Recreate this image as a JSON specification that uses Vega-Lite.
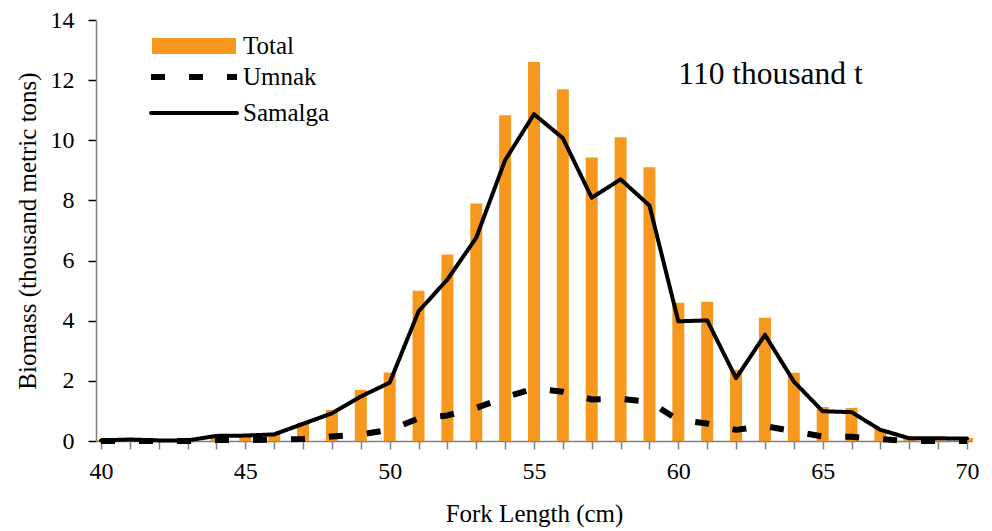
{
  "$schema": "https://vega.github.io/schema/vega-lite/v6.json",
  "width": 876,
  "height": 421,
  "autosize": {"type": "none"},
  "padding": {"left": 96, "top": 20, "right": 20, "bottom": 90},
  "background": "white",
  "config": {
    "view": {"stroke": null},
    "font": "Liberation Serif",
    "axis": {
      "labelFont": "Liberation Serif",
      "titleFont": "Liberation Serif",
      "labelColor": "black",
      "titleColor": "black",
      "labelFontSize": 24,
      "titleFontSize": 25,
      "titleFontWeight": "normal",
      "grid": false,
      "domainColor": "#808080",
      "domainWidth": 1.5,
      "tickSize": 8,
      "tickWidth": 1.5
    },
    "legend": {
      "labelFont": "Liberation Serif",
      "labelFontSize": 25,
      "labelColor": "black",
      "padding": 0,
      "title": null
    }
  },
  "data": {
    "values": [
      {"len": 40, "Total": 0.02, "Umnak": 0.0, "Samalga": 0.02},
      {"len": 41, "Total": 0.03, "Umnak": 0.0, "Samalga": 0.05},
      {"len": 42, "Total": 0.02, "Umnak": 0.0, "Samalga": 0.02},
      {"len": 43, "Total": 0.02, "Umnak": 0.0, "Samalga": 0.02},
      {"len": 44, "Total": 0.15, "Umnak": 0.03, "Samalga": 0.17},
      {"len": 45, "Total": 0.18, "Umnak": 0.03, "Samalga": 0.18},
      {"len": 46, "Total": 0.25, "Umnak": 0.05, "Samalga": 0.22},
      {"len": 47, "Total": 0.61, "Umnak": 0.07, "Samalga": 0.57},
      {"len": 48, "Total": 1.03, "Umnak": 0.15, "Samalga": 0.92},
      {"len": 49, "Total": 1.7, "Umnak": 0.22, "Samalga": 1.48},
      {"len": 50, "Total": 2.28, "Umnak": 0.37, "Samalga": 1.94},
      {"len": 51, "Total": 5.0, "Umnak": 0.75, "Samalga": 4.31},
      {"len": 52, "Total": 6.2, "Umnak": 0.85, "Samalga": 5.37},
      {"len": 53, "Total": 7.9, "Umnak": 1.1, "Samalga": 6.76},
      {"len": 54, "Total": 10.83, "Umnak": 1.45, "Samalga": 9.34},
      {"len": 55, "Total": 12.6, "Umnak": 1.75, "Samalga": 10.87},
      {"len": 56, "Total": 11.7, "Umnak": 1.64, "Samalga": 10.07},
      {"len": 57, "Total": 9.43, "Umnak": 1.38, "Samalga": 8.09},
      {"len": 58, "Total": 10.1, "Umnak": 1.4, "Samalga": 8.7},
      {"len": 59, "Total": 9.1, "Umnak": 1.3, "Samalga": 7.83},
      {"len": 60, "Total": 4.6, "Umnak": 0.7, "Samalga": 3.98},
      {"len": 61, "Total": 4.63, "Umnak": 0.58, "Samalga": 4.01},
      {"len": 62, "Total": 2.37, "Umnak": 0.37, "Samalga": 2.09},
      {"len": 63, "Total": 4.1, "Umnak": 0.5, "Samalga": 3.53},
      {"len": 64, "Total": 2.27, "Umnak": 0.32, "Samalga": 1.98},
      {"len": 65, "Total": 1.13, "Umnak": 0.15, "Samalga": 0.99},
      {"len": 66, "Total": 1.1, "Umnak": 0.14, "Samalga": 0.96},
      {"len": 67, "Total": 0.4, "Umnak": 0.06, "Samalga": 0.37},
      {"len": 68, "Total": 0.08, "Umnak": 0.0, "Samalga": 0.09},
      {"len": 69, "Total": 0.08, "Umnak": 0.0, "Samalga": 0.09},
      {"len": 70, "Total": 0.1, "Umnak": 0.0, "Samalga": 0.08}
    ]
  },
  "encoding": {
    "x": {
      "field": "len",
      "type": "quantitative",
      "scale": {"domain": [40, 70], "nice": false, "zero": false},
      "axis": {
        "title": "Fork Length (cm)",
        "values": [40,41,42,43,44,45,46,47,48,49,50,51,52,53,54,55,56,57,58,59,60,61,62,63,64,65,66,67,68,69,70],
        "labelExpr": "datum.value % 5 === 0 ? datum.label : ''",
        "labelFont": "Liberation Serif",
        "titleFont": "Liberation Serif",
        "tickColor": "#808080",
        "labelPadding": 10,
        "titlePadding": 18
      }
    }
  },
  "layer": [
    {
      "mark": {"type": "bar", "width": 12, "clip": false},
      "encoding": {
        "y": {
          "field": "Total",
          "type": "quantitative",
          "scale": {"domain": [0, 14], "nice": false},
          "axis": {
            "title": "Biomass (thousand metric tons)",
            "values": [0, 2, 4, 6, 8, 10, 12, 14],
            "labelFont": "Liberation Serif",
            "titleFont": "Liberation Serif",
            "tickColor": "black",
            "labelPadding": 14,
            "titlePadding": 10
          }
        },
        "color": {
          "datum": "Total",
          "scale": {"domain": ["Total"], "range": ["#F6981E"]},
          "legend": {
            "orient": "none",
            "legendX": 56,
            "legendY": 11,
            "symbolType": "M-1,-0.19H1V0.19H-1Z",
            "symbolSize": 7056,
            "symbolStrokeWidth": 0,
            "symbolOpacity": 1,
            "clipHeight": 30,
            "labelOffset": 7
          }
        }
      }
    },
    {
      "mark": {"type": "line", "color": "black", "strokeWidth": 6, "strokeCap": "butt", "strokeJoin": "round"},
      "encoding": {
        "y": {"field": "Umnak", "type": "quantitative"},
        "strokeDash": {
          "datum": "Umnak",
          "scale": {"domain": ["Umnak", "Samalga"], "range": [[14, 24], [1, 0]]},
          "legend": {
            "orient": "none",
            "legendX": 53,
            "legendY": 42,
            "symbolType": "stroke",
            "symbolSize": 7396,
            "symbolStrokeWidth": 4,
            "symbolStrokeColor": "black",
            "clipHeight": 30,
            "rowPadding": 6,
            "labelOffset": 4,
            "encode": {
              "symbols": {
                "update": {
                  "stroke": {"value": "black"},
                  "strokeDash": {"signal": "(datum.value === 'Umnak' ? [14, 33] : [1, 0])"},
                  "strokeWidth": {"signal": "(datum.value === 'Umnak' ? 6 : 4)"},
                  "strokeCap": {"signal": "(datum.value === 'Umnak' ? 'butt' : 'round')"}
                }
              }
            }
          }
        }
      }
    },
    {
      "mark": {"type": "line", "color": "black", "strokeWidth": 4, "strokeCap": "round", "strokeJoin": "round"},
      "encoding": {
        "y": {"field": "Samalga", "type": "quantitative"},
        "strokeDash": {"datum": "Samalga"}
      }
    },
    {
      "transform": [{"filter": "datum.len === 60"}],
      "mark": {"type": "text", "align": "left", "baseline": "alphabetic", "font": "Liberation Serif", "fontSize": 31.5, "color": "black"},
      "encoding": {
        "y": {"datum": 11.87},
        "text": {"value": "110 thousand t"}
      }
    }
  ]
}
